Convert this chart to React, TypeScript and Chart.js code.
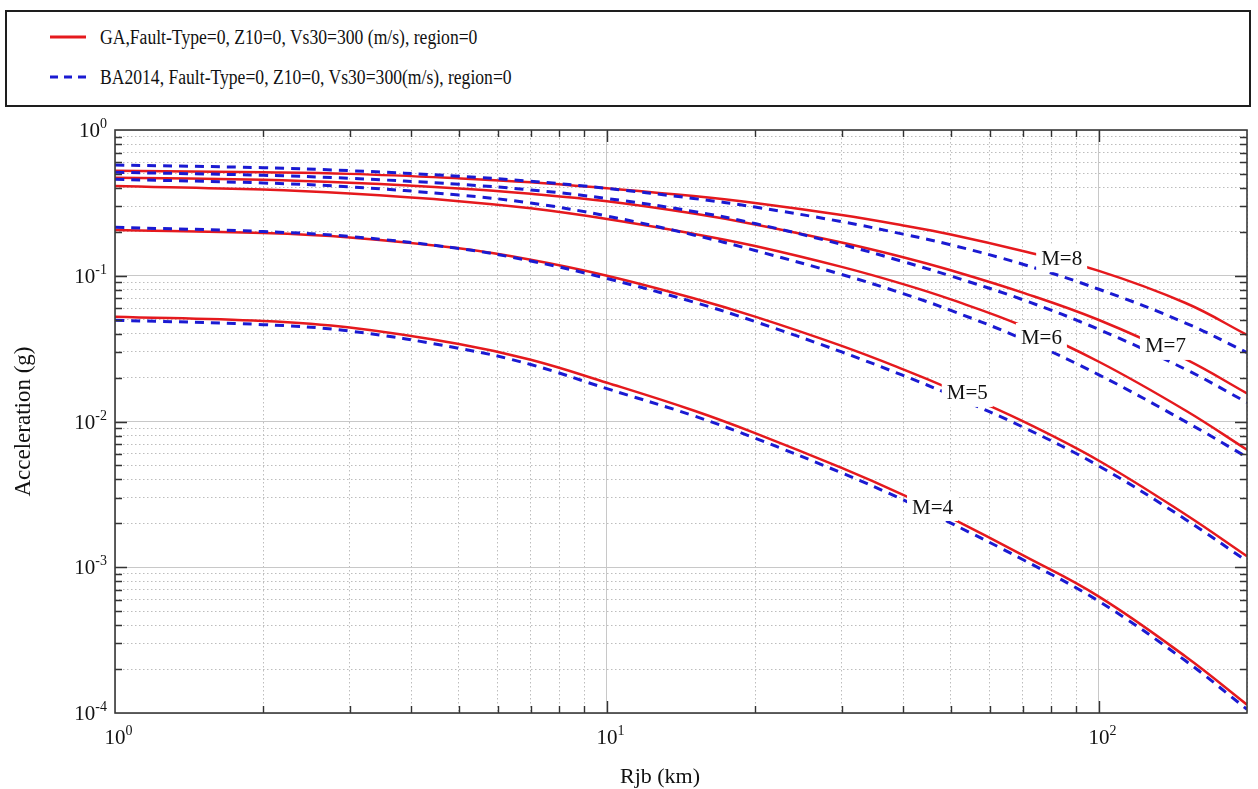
import React, { useEffect, useRef } from "react";
import { Chart, registerables } from "chart.js";

Chart.register(...registerables);

// ---- data ----
const rjb = [1, 2, 3, 5, 7, 10, 15, 20, 30, 40, 50, 70, 100, 150, 200];

const gaM8 = [0.526, 0.513, 0.5, 0.466, 0.438, 0.398, 0.352, 0.316, 0.261, 0.2215, 0.192, 0.148, 0.108, 0.065, 0.0393];
const baM8 = [0.575, 0.551, 0.526, 0.482, 0.445, 0.3975, 0.339, 0.296, 0.235, 0.193, 0.163, 0.12, 0.0808, 0.0474, 0.0297];
const gaM7 = [0.471, 0.455, 0.434, 0.3975, 0.365, 0.324, 0.267, 0.225, 0.169, 0.134, 0.109, 0.0766, 0.0497, 0.0268, 0.0156];
const baM7 = [0.513, 0.489, 0.466, 0.424, 0.388, 0.339, 0.276, 0.228, 0.164, 0.125, 0.0996, 0.0685, 0.0428, 0.0228, 0.0135];
const gaM6 = [0.413, 0.39, 0.366, 0.325, 0.29, 0.245, 0.194, 0.16, 0.115, 0.0876, 0.0688, 0.0452, 0.0257, 0.0119, 0.0064];
const baM6 = [0.459, 0.433, 0.407, 0.3575, 0.3155, 0.257, 0.1905, 0.149, 0.102, 0.0754, 0.0579, 0.0368, 0.0209, 0.00998, 0.00569];
const gaM5 = [0.206, 0.1965, 0.1833, 0.1543, 0.1288, 0.1001, 0.0701, 0.0524, 0.033, 0.0228, 0.0167, 0.01005, 0.00538, 0.0023, 0.00119];
const baM5 = [0.215, 0.201, 0.186, 0.1538, 0.1263, 0.0957, 0.066, 0.0485, 0.03, 0.0207, 0.0152, 0.00917, 0.00495, 0.00213, 0.0011];
const gaM4 = [0.0524, 0.0489, 0.0441, 0.034, 0.0265, 0.01845, 0.0119, 0.00833, 0.0048, 0.00314, 0.00218, 0.00121, 0.000629, 0.000244, 0.000114];
const baM4 = [0.0495, 0.0462, 0.0417, 0.0318, 0.0246, 0.0168, 0.01095, 0.00768, 0.00444, 0.0029, 0.00201, 0.00113, 0.000584, 0.000228, 0.000106];

const gaSeries = [gaM4, gaM5, gaM6, gaM7, gaM8];
const baSeries = [baM4, baM5, baM6, baM7, baM8];

const curveLabels = ["M=4", "M=5", "M=6", "M=7", "M=8"];
const curveLabelX = [45.9, 54, 76.4, 136.5, 84];
const curveLabelY = [0.00259, 0.0157, 0.038, 0.033, 0.132];

const legendLabels = [
  "GA,Fault-Type=0, Z10=0, Vs30=300 (m/s), region=0",
  "BA2014, Fault-Type=0, Z10=0, Vs30=300(m/s), region=0",
];

const xTitle = "Rjb (km)";
const yTitle = "Acceleration (g)";

const xTickValues = [1, 2, 3, 4, 5, 6, 7, 8, 9, 10, 20, 30, 40, 50, 60, 70, 80, 90, 100, 200];
const xMajorValues = [1, 10, 100];
const xMajorExps = ["0", "1", "2"];
const yTickValues = [
  0.0001, 0.0002, 0.0003, 0.0004, 0.0005, 0.0006, 0.0007, 0.0008, 0.0009,
  0.001, 0.002, 0.003, 0.004, 0.005, 0.006, 0.007, 0.008, 0.009,
  0.01, 0.02, 0.03, 0.04, 0.05, 0.06, 0.07, 0.08, 0.09,
  0.1, 0.2, 0.3, 0.4, 0.5, 0.6, 0.7, 0.8, 0.9, 1,
];
const yMajorValues = [0.0001, 0.001, 0.01, 0.1, 1];
const yMajorExps = ["-4", "-3", "-2", "-1", "0"];

const RED = "#e5191d";
const BLUE = "#1a1ad2";
const FONT = '"Liberation Serif", "Times New Roman", serif';

const isMajor = (v: number, majors: number[]) =>
  majors.some((m) => Math.abs(v - m) / m < 1e-6);

const decorPlugin = {
  id: "decor",
  afterDatasetsDraw(chart: any) {
    const ctx = chart.ctx as CanvasRenderingContext2D;
    const xs = chart.scales.x;
    const ys = chart.scales.y;
    ctx.save();
    ctx.font = `21px ${FONT}`;
    for (let i = 0; i < curveLabels.length; i++) {
      const px = xs.getPixelForValue(curveLabelX[i]);
      const py = ys.getPixelForValue(curveLabelY[i]);
      const w = ctx.measureText(curveLabels[i]).width;
      ctx.fillStyle = "#ffffff";
      ctx.fillRect(px - w / 2 - 5, py - 14, w + 10, 28);
      ctx.fillStyle = "#111111";
      ctx.textAlign = "center";
      ctx.textBaseline = "middle";
      ctx.fillText(curveLabels[i], px, py + 1);
    }
    ctx.restore();
  },
  afterDraw(chart: any) {
    const ctx = chart.ctx as CanvasRenderingContext2D;
    const a = chart.chartArea;
    const xs = chart.scales.x;
    const ys = chart.scales.y;
    ctx.save();
    // ticks (inward, all four sides)
    ctx.strokeStyle = "#333333";
    ctx.lineWidth = 1.4;
    ctx.beginPath();
    for (const v of xTickValues) {
      if (v === 1 || v === 200) continue;
      const px = Math.round(xs.getPixelForValue(v)) + 0.5;
      const len = isMajor(v, xMajorValues) ? 12 : 7;
      ctx.moveTo(px, a.bottom);
      ctx.lineTo(px, a.bottom - len);
      ctx.moveTo(px, a.top);
      ctx.lineTo(px, a.top + len);
    }
    for (const v of yTickValues) {
      if (v === 1 || v === 0.0001) continue;
      const py = Math.round(ys.getPixelForValue(v)) + 0.5;
      const len = isMajor(v, yMajorValues) ? 12 : 7;
      ctx.moveTo(a.left, py);
      ctx.lineTo(a.left + len, py);
      ctx.moveTo(a.right, py);
      ctx.lineTo(a.right - len, py);
    }
    ctx.stroke();
    // frame
    ctx.strokeStyle = "#3a3a3a";
    ctx.lineWidth = 1.6;
    ctx.strokeRect(a.left, a.top, a.right - a.left, a.bottom - a.top);

    // tick labels with superscripts
    ctx.fillStyle = "#111111";
    ctx.textAlign = "left";
    ctx.textBaseline = "alphabetic";
    const baseFont = `21px ${FONT}`;
    const expFont = `14px ${FONT}`;
    ctx.font = baseFont;
    const wb = ctx.measureText("10").width;
    for (let i = 0; i < yMajorValues.length; i++) {
      const py = ys.getPixelForValue(yMajorValues[i]);
      ctx.font = expFont;
      const we = ctx.measureText(yMajorExps[i]).width;
      const bx = a.left - 8 - we - wb;
      ctx.font = baseFont;
      ctx.fillText("10", bx, py + 7);
      ctx.font = expFont;
      ctx.fillText(yMajorExps[i], bx + wb, py - 2);
    }
    for (let i = 0; i < xMajorValues.length; i++) {
      const px = xs.getPixelForValue(xMajorValues[i]);
      const bx = px - wb / 2;
      ctx.font = baseFont;
      ctx.fillText("10", bx, a.bottom + 31);
      ctx.font = expFont;
      ctx.fillText(xMajorExps[i], bx + wb, a.bottom + 22);
    }
    // axis titles
    ctx.font = `22px ${FONT}`;
    ctx.textAlign = "center";
    ctx.textBaseline = "middle";
    ctx.fillText(xTitle, 660, a.bottom + 64);
    ctx.save();
    ctx.translate(24, (a.top + a.bottom) / 2);
    ctx.rotate(-Math.PI / 2);
    ctx.font = `23px ${FONT}`;
    ctx.fillText(yTitle, 0, 0);
    ctx.restore();
    ctx.restore();
  },
};

function gridColor(majors: number[]) {
  return (c: any) => (c.tick && isMajor(c.tick.value, majors) ? "#c8c8c8" : "#bdbdbd");
}
function gridDash(majors: number[]) {
  return (c: any) => (c.tick && isMajor(c.tick.value, majors) ? [] : [1.5, 2.5]);
}

export default function App() {
  const canvasRef = useRef<HTMLCanvasElement | null>(null);

  useEffect(() => {
    if (!canvasRef.current) return;
    const datasets: any[] = [];
    for (let k = 0; k < baSeries.length; k++) {
      datasets.push({
        label: `BA2014 ${curveLabels[k]}`,
        data: rjb.map((x, i) => ({ x, y: baSeries[k][i] })),
        borderColor: BLUE,
        borderWidth: 3,
        borderDash: [9, 7],
        pointRadius: 0,
        fill: false,
        tension: 0.4,
      });
    }
    for (let k = 0; k < gaSeries.length; k++) {
      datasets.push({
        label: `GA ${curveLabels[k]}`,
        data: rjb.map((x, i) => ({ x, y: gaSeries[k][i] })),
        borderColor: RED,
        borderWidth: 2.5,
        pointRadius: 0,
        fill: false,
        tension: 0.4,
      });
    }
    const chart = new Chart(canvasRef.current, {
      type: "line",
      data: { datasets },
      plugins: [decorPlugin],
      options: {
        animation: false,
        responsive: false,
        events: [],
        layout: { padding: { left: 115, right: 11, top: 130, bottom: 76 } },
        plugins: { legend: { display: false }, tooltip: { enabled: false } },
        scales: {
          x: {
            type: "logarithmic",
            min: 1,
            max: 200,
            afterBuildTicks: (s: any) => {
              s.ticks = xTickValues.map((v) => ({ value: v, major: isMajor(v, xMajorValues) }));
            },
            ticks: { display: false },
            grid: { drawTicks: false, color: gridColor(xMajorValues), lineWidth: 1 },
            border: { display: false, dash: gridDash(xMajorValues) },
          },
          y: {
            type: "logarithmic",
            min: 0.0001,
            max: 1,
            afterBuildTicks: (s: any) => {
              s.ticks = yTickValues.map((v) => ({ value: v, major: isMajor(v, yMajorValues) }));
            },
            ticks: { display: false },
            grid: { drawTicks: false, color: gridColor(yMajorValues), lineWidth: 1 },
            border: { display: false, dash: gridDash(yMajorValues) },
          },
        },
      } as any,
    });
    return () => chart.destroy();
  }, []);

  const rowStyle = (top: number): React.CSSProperties => ({
    position: "absolute",
    left: 0,
    top,
    height: 26,
    display: "flex",
    alignItems: "center",
    whiteSpace: "nowrap",
  });
  const textStyle: React.CSSProperties = {
    display: "inline-block",
    transform: "scaleX(0.88)",
    transformOrigin: "left center",
  };

  return (
    <div style={{ position: "absolute", left: 0, top: 0, width: 1258, height: 789, background: "#fff" }}>
      <canvas ref={canvasRef} width={1258} height={789} style={{ position: "absolute", left: 0, top: 0 }} />
      <div
        style={{
          position: "absolute",
          left: 5,
          top: 10,
          width: 1246,
          height: 97,
          border: "2px solid #1e1e1e",
          boxSizing: "border-box",
          background: "#fff",
          fontFamily: FONT,
          fontSize: 20,
          color: "#111",
        }}
      >
        <div style={rowStyle(12)}>
          <svg width={36} height={6} style={{ marginLeft: 43, marginRight: 14 }}>
            <line x1={0} y1={3} x2={36} y2={3} stroke={RED} strokeWidth={3} />
          </svg>
          <span style={textStyle}>{legendLabels[0]}</span>
        </div>
        <div style={rowStyle(52)}>
          <svg width={36} height={6} style={{ marginLeft: 43, marginRight: 14 }}>
            <line x1={0} y1={3} x2={36} y2={3} stroke={BLUE} strokeWidth={3} strokeDasharray="8 6" />
          </svg>
          <span style={textStyle}>{legendLabels[1]}</span>
        </div>
      </div>
    </div>
  );
}
